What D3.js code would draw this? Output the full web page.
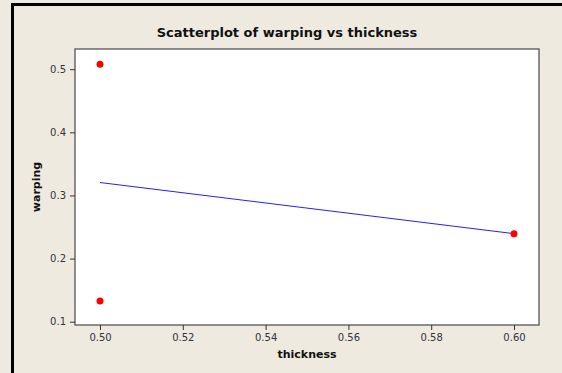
<!DOCTYPE html>
<html>
<head>
<meta charset="utf-8">
<script src="https://cdn.jsdelivr.net/npm/d3@7"></script>
<style>
  html, body { margin: 0; padding: 0; background: #eeeae0; }
  svg { display: block; }
</style>
</head>
<body>
<div id="chart"></div>
<script>
// data
const thickness = [0.50, 0.50, 0.60];
const warping = [0.508, 0.133, 0.2395];
const xTicks = [0.50, 0.52, 0.54, 0.56, 0.58, 0.60];
const yTicks = [0.1, 0.2, 0.3, 0.4, 0.5];

const width = 562, height = 373;
const plot = {left: 75, top: 49, right: 539, bottom: 325};

const svg = d3.select('#chart')
  .append('svg')
  .attr('width', width)
  .attr('height', height);

svg.append('rect')
  .attr('width', width).attr('height', height)
  .attr('fill', '#eeeae0');

// black window edges (top and left)
svg.append('rect').attr('x', 11).attr('y', 3).attr('width', width - 11).attr('height', 3).attr('fill', '#000');
svg.append('rect').attr('x', 11).attr('y', 3).attr('width', 3).attr('height', height - 3).attr('fill', '#000');

const x = d3.scaleLinear().domain([0.49396, 0.60604]).range([plot.left, plot.right]);
const y = d3.scaleLinear().domain([0.0948, 0.532]).range([plot.bottom, plot.top]);

svg.append('rect')
  .attr('x', plot.left).attr('y', plot.top)
  .attr('width', plot.right - plot.left).attr('height', plot.bottom - plot.top)
  .attr('fill', '#fff')
  .attr('stroke', '#555')
  .attr('stroke-width', 1.3);

const font = '"DejaVu Sans", Verdana, sans-serif';

const xAxis = svg.append('g')
  .attr('transform', 'translate(0,' + plot.bottom + ')')
  .call(d3.axisBottom(x).tickValues(xTicks).tickFormat(d3.format('.2f')).tickSize(5).tickPadding(4));
const yAxis = svg.append('g')
  .attr('transform', 'translate(' + plot.left + ',0)')
  .call(d3.axisLeft(y).tickValues(yTicks).tickFormat(d3.format('.1f')).tickSize(5).tickPadding(4));

[xAxis, yAxis].forEach(g => {
  g.select('.domain').remove();
  g.selectAll('line').attr('stroke', '#333');
  g.selectAll('text')
    .attr('fill', '#33333d')
    .style('font-family', font)
    .style('font-size', '10px');
});

// least squares fit line
const mx = d3.mean(thickness), my = d3.mean(warping);
const slope = d3.sum(thickness, (t, i) => (t - mx) * (warping[i] - my)) /
  d3.sum(thickness, t => (t - mx) * (t - mx));
const fit = t => my + slope * (t - mx);
const xs = d3.extent(thickness);

svg.append('line')
  .attr('x1', x(xs[0])).attr('y1', y(fit(xs[0])))
  .attr('x2', x(xs[1])).attr('y2', y(fit(xs[1])))
  .attr('stroke', '#2020ff')
  .attr('stroke-width', 1);

svg.selectAll('circle.pt')
  .data(thickness)
  .enter()
  .append('circle')
  .attr('class', 'pt')
  .attr('cx', d => x(d))
  .attr('cy', (d, i) => y(warping[i]))
  .attr('r', 3.5)
  .attr('fill', '#ff0000');

svg.append('text')
  .attr('x', 287).attr('y', 37)
  .attr('text-anchor', 'middle')
  .style('font-family', font).style('font-weight', 'bold').style('font-size', '13px')
  .attr('fill', '#111')
  .text('Scatterplot of warping vs thickness');

svg.append('text')
  .attr('x', 307).attr('y', 358)
  .attr('text-anchor', 'middle')
  .style('font-family', font).style('font-weight', 'bold').style('font-size', '11px')
  .attr('fill', '#111')
  .text('thickness');

svg.append('text')
  .attr('transform', 'translate(40,' + ((plot.top + plot.bottom) / 2) + ') rotate(-90)')
  .attr('text-anchor', 'middle')
  .style('font-family', font).style('font-weight', 'bold').style('font-size', '11px')
  .attr('fill', '#111')
  .text('warping');
</script>
</body>
</html>
